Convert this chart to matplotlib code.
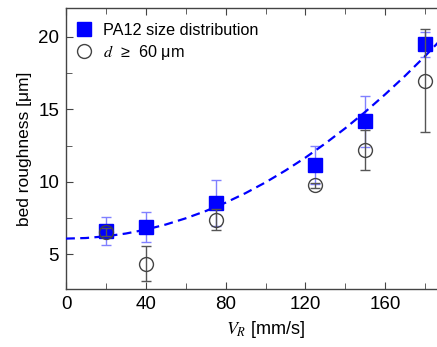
import numpy as np
import matplotlib.pyplot as plt
from matplotlib.ticker import MultipleLocator, FixedLocator

plt.rcParams['font.family'] = ['Liberation Sans', 'DejaVu Sans']
plt.rcParams['mathtext.fontset'] = 'stix'

# PA12 size distribution (filled squares)
vr = [20, 40, 75, 125, 150, 180]
pa12 = [6.60, 6.88, 8.53, 11.17, 14.17, 19.49]
pa12_err = [0.95, 1.02, 1.60, 1.33, 1.77, 0.85]

# d >= 60 um (open circles)
d60 = [6.53, 4.36, 7.39, 9.75, 12.20, 16.97]
d60_err = [0.25, 1.18, 0.75, 0.20, 1.35, 3.55]

# dashed fit curve
fit_x = [0, 10, 20, 30, 40, 50, 60, 70, 80, 90, 100, 110, 120, 130, 140, 150, 160, 170, 180, 190]
fit_y = [6.08, 6.12, 6.24, 6.43, 6.70, 7.05, 7.48, 7.98, 8.56, 9.22,
         9.96, 10.78, 11.67, 12.65, 13.70, 14.83, 16.04, 17.32, 18.68, 20.12]

x_ticks = [0, 40, 80, 120, 160]

fig = plt.figure(figsize=(4.37, 3.47), dpi=100)
ax = fig.add_axes([66 / 437, 1 - 289 / 347, (465 - 66) / 437, (289 - 8) / 347])

ax.errorbar(vr, pa12, yerr=pa12_err, fmt='none', ecolor='#8080ff',
            elinewidth=1.0, capsize=3.5, capthick=1.0, zorder=2)
ax.plot(vr, pa12, 's', color='#0000ff', markersize=10, zorder=3,
        label='PA12 size distribution')
ax.plot(fit_x, fit_y, color='#0000ff', linewidth=1.6,
        linestyle=(0, (4, 2.4)), zorder=4)
ax.errorbar(vr, d60, yerr=d60_err, fmt='none', ecolor='#555555',
            elinewidth=1.0, capsize=3.5, capthick=1.0, zorder=5)
ax.plot(vr, d60, 'o', markerfacecolor='none', markeredgecolor='#444444',
        markeredgewidth=1.0, markersize=10, zorder=6,
        label='$d$  ≥  60 μm')

ax.set_xlim(0, 200)
ax.set_ylim(2.6, 22)
ax.xaxis.set_major_locator(FixedLocator(x_ticks))
ax.xaxis.set_minor_locator(MultipleLocator(20))
ax.yaxis.set_major_locator(MultipleLocator(5))
ax.yaxis.set_minor_locator(MultipleLocator(2.5))
ax.tick_params(which='both', direction='in', top=True, right=True,
               color='#444444', labelsize=13.5, pad=5)
ax.tick_params(which='major', length=5)
ax.tick_params(which='minor', length=4.5)
for s in ax.spines.values():
    s.set_color('#444444')
    s.set_linewidth(1.0)

ax.set_xlabel('$V_R$ [mm/s]', fontsize=13)
ax.set_ylabel('bed roughness [μm]', fontsize=12.5)

ax.legend(loc='upper left', bbox_to_anchor=(0.0, 0.975), frameon=False,
          fontsize=11.7, handletextpad=0.6, borderaxespad=0.2,
          labelspacing=0.3, handlelength=1.2, borderpad=0.3)

fig.savefig('out.png', dpi=100)
